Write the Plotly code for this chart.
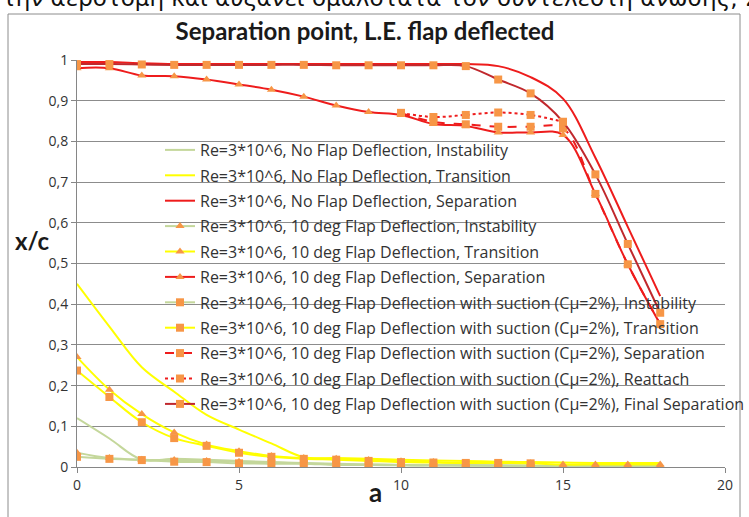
import plotly.graph_objects as go

# ---------------- data ----------------
a_full = list(range(0, 19))
a_suct = list(range(0, 15))
a_late = list(range(10, 16))
a_sep_s = list(range(10, 19))

noflap_inst = [0.12, 0.07, 0.018, 0.02, 0.018, 0.015, 0.012, 0.01, 0.008, 0.006, 0.005,
               0.004, 0.003, 0.003, 0.003, 0.002, 0.002, 0.002, 0.002]
noflap_trans = [0.45, 0.345, 0.245, 0.185, 0.128, 0.092, 0.058, 0.024, 0.022, 0.02, 0.018,
                0.016, 0.015, 0.013, 0.012, 0.011, 0.01, 0.01, 0.01]
noflap_sep = [0.995, 0.995, 0.992, 0.99, 0.99, 0.99, 0.99, 0.99, 0.99, 0.99, 0.99,
              0.99, 0.99, 0.985, 0.958, 0.905, 0.76, 0.59, 0.42]
flap_inst = [0.035, 0.022, 0.018, 0.017, 0.015, 0.013, 0.011, 0.009, 0.007, 0.006, 0.005,
             0.004, 0.004, 0.003, 0.003, 0.003, 0.003, 0.003, 0.003]
flap_trans = [0.27, 0.19, 0.13, 0.085, 0.055, 0.039, 0.027, 0.022, 0.02, 0.017, 0.014,
              0.012, 0.01, 0.01, 0.009, 0.006, 0.006, 0.006, 0.006]
flap_sep = [0.98, 0.98, 0.962, 0.96, 0.952, 0.94, 0.927, 0.91, 0.888, 0.872, 0.865,
            0.843, 0.838, 0.822, 0.822, 0.816, 0.671, 0.498, 0.351]
suct_inst = [0.025, 0.02, 0.017, 0.013, 0.012, 0.009, 0.008, 0.008, 0.005, 0.005, 0.004,
             0.004, 0.004, 0.004, 0.003]
suct_trans = [0.237, 0.172, 0.11, 0.071, 0.052, 0.035, 0.025, 0.02, 0.018, 0.015, 0.012,
              0.011, 0.01, 0.01, 0.009]
suct_sep = [0.87, 0.848, 0.842, 0.836, 0.836, 0.832, 0.671, 0.498, 0.351]
suct_reatt = [0.87, 0.86, 0.865, 0.871, 0.865, 0.848]
suct_final = [0.99, 0.99, 0.989, 0.988, 0.988, 0.988, 0.988, 0.988, 0.987, 0.987, 0.987,
              0.987, 0.985, 0.952, 0.918, 0.848, 0.719, 0.548, 0.379]

names = [
    "Re=3*10^6, No Flap Deflection, Instability",
    "Re=3*10^6, No Flap Deflection, Transition",
    "Re=3*10^6, No Flap Deflection, Separation",
    "Re=3*10^6, 10 deg Flap Deflection, Instability",
    "Re=3*10^6, 10 deg Flap Deflection, Transition",
    "Re=3*10^6, 10 deg Flap Deflection, Separation",
    "Re=3*10^6, 10 deg Flap Deflection with suction (Cμ=2%), Instability",
    "Re=3*10^6, 10 deg Flap Deflection with suction (Cμ=2%), Transition",
    "Re=3*10^6, 10 deg Flap Deflection with suction (Cμ=2%), Separation",
    "Re=3*10^6, 10 deg Flap Deflection with suction (Cμ=2%), Reattach",
    "Re=3*10^6, 10 deg Flap Deflection with suction (Cμ=2%), Final Separation",
]

GREEN = "#c4d79b"
YELLOW = "#ffff00"
RED = "#ee1c1c"
DARKRED = "#c0282d"
ORANGE = "#f79646"
FONT = "Lato"
LFONT = "Open Sans"

series = [
    (a_full, noflap_inst, GREEN, "solid", None),
    (a_full, noflap_trans, YELLOW, "solid", None),
    (a_full, noflap_sep, RED, "solid", None),
    (a_full, flap_inst, GREEN, "solid", "triangle-up"),
    (a_full, flap_trans, YELLOW, "solid", "triangle-up"),
    (a_full, flap_sep, RED, "solid", "triangle-up"),
    (a_suct, suct_inst, GREEN, "solid", "square"),
    (a_suct, suct_trans, YELLOW, "solid", "square"),
    (a_sep_s, suct_sep, RED, "dash", "square"),
    (a_late, suct_reatt, RED, "dot", "square"),
    (a_full, suct_final, DARKRED, "solid", "square"),
]

fig = go.Figure()
for i, (xs, ys, col, dash, sym) in enumerate(series):
    mode = "lines+markers" if sym else "lines"
    kw = dict(marker=dict(symbol=sym, size=8, color=ORANGE, line=dict(width=0))) if sym else {}
    fig.add_trace(go.Scatter(
        x=xs, y=ys, name=names[i], mode=mode, legendgroup=f"g{i}",
        line=dict(color=col, width=2, dash=dash, shape="spline", smoothing=1.0),
        **kw))

L, R, T, B = 77, 24, 60, 50
W, H = 749, 517
pw, ph = W - L - R, H - T - B

def px_x(p):
    return (p - L) / pw

def px_y(p):
    return (H - B - p) / ph

fig.update_layout(
    width=W, height=H,
    margin=dict(l=L, r=R, t=T, b=B, autoexpand=False),
    paper_bgcolor="white", plot_bgcolor="white",
    separators=", ",
    font=dict(family=FONT, size=14, color="#404040"),
    showlegend=True,
    legend=dict(x=px_x(160), y=px_y(133), xanchor="left", yanchor="top",
                bgcolor="rgba(0,0,0,0)", font=dict(family=LFONT, size=16, color="#333333"),
                tracegroupgap=1.6, itemwidth=30),
    xaxis=dict(range=[0, 20], dtick=5, showgrid=False, showline=True, linecolor="#868686",
               ticks="outside", ticklen=5, tickcolor="#868686", zeroline=False,
               tickfont=dict(family=LFONT, size=14, color="#333333")),
    yaxis=dict(range=[0, 1], dtick=0.1, showgrid=True, gridcolor="#8c8c8c", gridwidth=1,
               showline=True, linecolor="#868686", ticks="outside", ticklen=5,
               tickcolor="#868686", zeroline=False,
               tickfont=dict(family=LFONT, size=14, color="#333333")),
    title=dict(text="<b>Separation point, L.E. flap deflected</b>",
               x=365 / W, xanchor="center", y=1 - 32 / H, yanchor="middle",
               font=dict(family=FONT, size=24, color="#1a1a1a")),
)

fig.add_annotation(text="<b>x/c</b>", x=px_x(32), y=px_y(241), xref="paper", yref="paper",
                   xanchor="center", yanchor="middle",
                   showarrow=False, font=dict(family=FONT, size=24, color="#1a1a1a"))
fig.add_annotation(text="<b>a</b>", x=px_x(375), y=px_y(492), xref="paper", yref="paper",
                   xanchor="center", yanchor="middle",
                   showarrow=False, font=dict(family=FONT, size=26, color="#1a1a1a"))
fig.add_annotation(text="την αεροτομή και αυξάνει ομαλότατα τον συντελεστή άνωσης, Σ",
                   x=px_x(0), y=px_y(13), xref="paper", yref="paper", xanchor="left",
                   yanchor="bottom", showarrow=False,
                   font=dict(family="DejaVu Sans", size=23, color="#111111"))

fig.add_shape(type="rect", xref="paper", yref="paper",
              x0=px_x(8), x1=px_x(740), y0=px_y(530), y1=px_y(14),
              line=dict(color="#8c8c8c", width=1), fillcolor="rgba(0,0,0,0)", layer="below")

fig.write_html("out.html")
